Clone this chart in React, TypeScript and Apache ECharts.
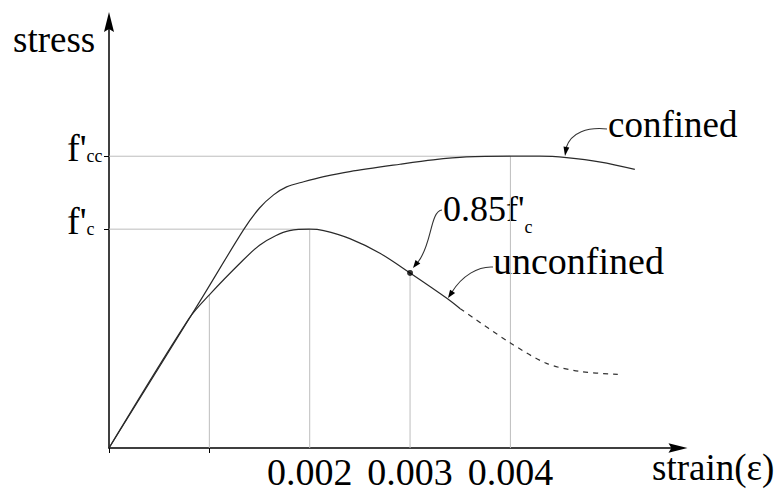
import React, { useEffect, useRef } from 'react';
import * as echarts from 'echarts';

const FONT = '"Liberation Serif", "Times New Roman", serif';

// confined concrete curve (strain, stress in MPa-like units; f'c = 30, f'cc = 40)
const confinedStrain = [0, 0.00091, 0.00134, 0.0015, 0.00164, 0.00177, 0.00194, 0.00214, 0.0024, 0.0029, 0.00323, 0.00356, 0.004, 0.00429, 0.00456, 0.0049, 0.00524];
const confinedStress = [0, 20.2, 29.9, 32.9, 34.7, 35.8, 36.5, 37.2, 37.9, 38.9, 39.5, 39.9, 40.0, 40.0, 39.8, 39.2, 38.2];

// unconfined concrete curve, solid part
const unconfinedStrain = [0, 0.0008, 0.001, 0.00134, 0.0015, 0.00166, 0.0018, 0.002, 0.00214, 0.0024, 0.0027, 0.003, 0.00337, 0.0035];
const unconfinedStress = [0, 17.8, 21.0, 25.8, 27.8, 29.1, 29.8, 30.0, 29.8, 28.7, 26.7, 24.0, 20.5, 19.1];

// unconfined concrete curve, dashed descending tail
const tailStrain = [0.0035, 0.004, 0.00436, 0.00469, 0.00507];
const tailStress = [19.1, 14.4, 11.6, 10.5, 10.1];

// marked point (0.85 f'c)
const markStrain = [0.003];
const markStress = [24.0];

// guide lines
const strainGuides = [0.001, 0.002, 0.003, 0.004];
const strainGuideTops = [21.0, 30.0, 24.0, 40.0];
const stressGuides = [30, 40];
const stressGuideEnds = [0.002, 0.004];

// tick labels
const xTickLabels = [0.002, 0.003, 0.004];
const xTickMarks = [0, 0.001];
const yTickValues = [30, 40];
const yTickLabels = ["{f|f'}{s|c}", "{f|f'}{s|cc}"];

const X_MAX = 0.00567;
const Y_MAX = 58.4;

const zip = (xs: number[], ys: number[]) => xs.map((x, i) => [x, ys[i]]);

export default function App() {
  const ref = useRef<HTMLDivElement>(null);

  useEffect(() => {
    const chart = echarts.init(ref.current!, null, { renderer: 'svg' });
    const guideStyle = { color: '#bdbdbd', width: 1 };
    const curveStyle = { color: '#2a2a2a', width: 1.2 };
    const arrowPath = 'path://M5,0 L10,20 L5,17 L0,20 Z';

    const guideSeries: any[] = [
      ...strainGuides.map((x, i) => ({
        type: 'line',
        data: [[x, 0], [x, strainGuideTops[i]]],
        symbol: 'none',
        silent: true,
        lineStyle: guideStyle,
      })),
      ...stressGuides.map((y, i) => ({
        type: 'line',
        data: [[0, y], [stressGuideEnds[i], y]],
        symbol: 'none',
        silent: true,
        lineStyle: guideStyle,
      })),
    ];

    chart.setOption({
      animation: false,
      textStyle: { fontFamily: FONT },
      grid: { left: 109, right: 98, top: 22, bottom: 51, outerBoundsMode: 'none' },
      xAxis: {
        type: 'value',
        min: 0,
        max: X_MAX,
        axisLine: {
          show: true,
          symbol: ['none', arrowPath],
          symbolSize: [14, 19],
          lineStyle: { color: '#000', width: 1.5 },
        },
        axisTick: { show: true, customValues: xTickMarks, length: 5, lineStyle: { color: '#000', width: 1 } },
        axisLabel: {
          customValues: xTickLabels,
          formatter: (v: number) => v.toFixed(3),
          fontFamily: FONT,
          fontSize: 38,
          lineHeight: 38,
          color: '#000',
          margin: 5,
        },
        splitLine: { show: false },
      },
      yAxis: {
        type: 'value',
        min: 0,
        max: Y_MAX,
        axisLine: {
          show: true,
          symbol: ['none', arrowPath],
          symbolSize: [15, 20],
          lineStyle: { color: '#000', width: 1.5 },
        },
        axisTick: { show: true, customValues: yTickValues, length: 5, lineStyle: { color: '#000', width: 1 } },
        axisLabel: {
          customValues: yTickValues,
          formatter: (v: number) => yTickLabels[yTickValues.indexOf(v)] || '',
          align: 'left',
          margin: 42,
          fontFamily: FONT,
          color: '#000',
          rich: {
            f: { fontFamily: FONT, fontSize: 38, lineHeight: 17, padding: [0, 0, 17, 0], color: '#000', verticalAlign: 'middle' },
            s: { fontFamily: FONT, fontSize: 18, lineHeight: 18, color: '#000', verticalAlign: 'middle' },
          },
        },
        splitLine: { show: false },
      },
      series: [
        ...guideSeries,
        {
          type: 'line',
          name: 'confined',
          data: zip(confinedStrain, confinedStress),
          symbol: 'none',
          smooth: 0.3,
          lineStyle: curveStyle,
        },
        {
          type: 'line',
          name: 'unconfined',
          data: zip(unconfinedStrain, unconfinedStress),
          symbol: 'none',
          smooth: 0.3,
          lineStyle: curveStyle,
        },
        {
          type: 'line',
          name: 'unconfined tail',
          data: zip(tailStrain, tailStress),
          symbol: 'none',
          smooth: 0.3,
          lineStyle: { color: '#333', width: 1.2, type: [5, 5] },
        },
        {
          type: 'scatter',
          data: zip(markStrain, markStress),
          symbolSize: 6,
          itemStyle: { color: '#000' },
          z: 5,
        },
      ],
      graphic: [
        { type: 'text', x: 13, y: 39.5, style: { text: 'stress', fontFamily: FONT, fontSize: 37, fill: '#000', align: 'left', verticalAlign: 'middle' } },
        { type: 'text', x: 652, y: 467, style: { text: 'strain(ε)', fontFamily: FONT, fontSize: 37, fill: '#000', align: 'left', verticalAlign: 'middle' } },
        { type: 'text', x: 608, y: 124.5, style: { text: 'confined', fontFamily: FONT, fontSize: 37, fill: '#000', align: 'left', verticalAlign: 'middle' } },
        { type: 'text', x: 493, y: 261, style: { text: 'unconfined', fontFamily: FONT, fontSize: 38, fill: '#000', align: 'left', verticalAlign: 'middle' } },
        {
          type: 'text', x: 443, y: 217,
          style: {
            text: "{m|0.85f'}{s|c}", fill: '#000', align: 'left', verticalAlign: 'top',
            rich: {
              m: { fontFamily: FONT, fontSize: 36, lineHeight: 20, padding: [0, 0, 36, 0], fill: '#000', verticalAlign: 'middle' },
              s: { fontFamily: FONT, fontSize: 18, lineHeight: 18, fill: '#000', verticalAlign: 'middle' },
            },
          },
        },
        // leader for "confined"
        { type: 'bezierCurve', shape: { x1: 607, y1: 129, cpx1: 588, cpy1: 127, cpx2: 571, cpy2: 132, x2: 566, y2: 148 }, style: { stroke: '#333', lineWidth: 1.1, fill: 'none' } },
        { type: 'polygon', shape: { points: [[565, 156], [569.3, 147.6], [563.5, 146.6]] }, style: { fill: '#000' } },
        // leader for "0.85f'c"
        { type: 'bezierCurve', shape: { x1: 442, y1: 210, cpx1: 430, cpy1: 211, cpx2: 432, cpy2: 245, x2: 418, y2: 262 }, style: { stroke: '#333', lineWidth: 1.1, fill: 'none' } },
        { type: 'polygon', shape: { points: [[413, 268], [420.3, 263.5], [415.5, 259.9]] }, style: { fill: '#000' } },
        // leader for "unconfined"
        { type: 'bezierCurve', shape: { x1: 493, y1: 267, cpx1: 478, cpy1: 266, cpx2: 462, cpy2: 276, x2: 452, y2: 292 }, style: { stroke: '#333', lineWidth: 1.1, fill: 'none' } },
        { type: 'polygon', shape: { points: [[448, 298], [455.1, 293.1], [450.1, 289.7]] }, style: { fill: '#000' } },
      ],
    });

    return () => chart.dispose();
  }, []);

  return <div ref={ref} style={{ position: 'fixed', left: 0, top: 0, width: 776, height: 499, background: '#fff' }} />;
}
